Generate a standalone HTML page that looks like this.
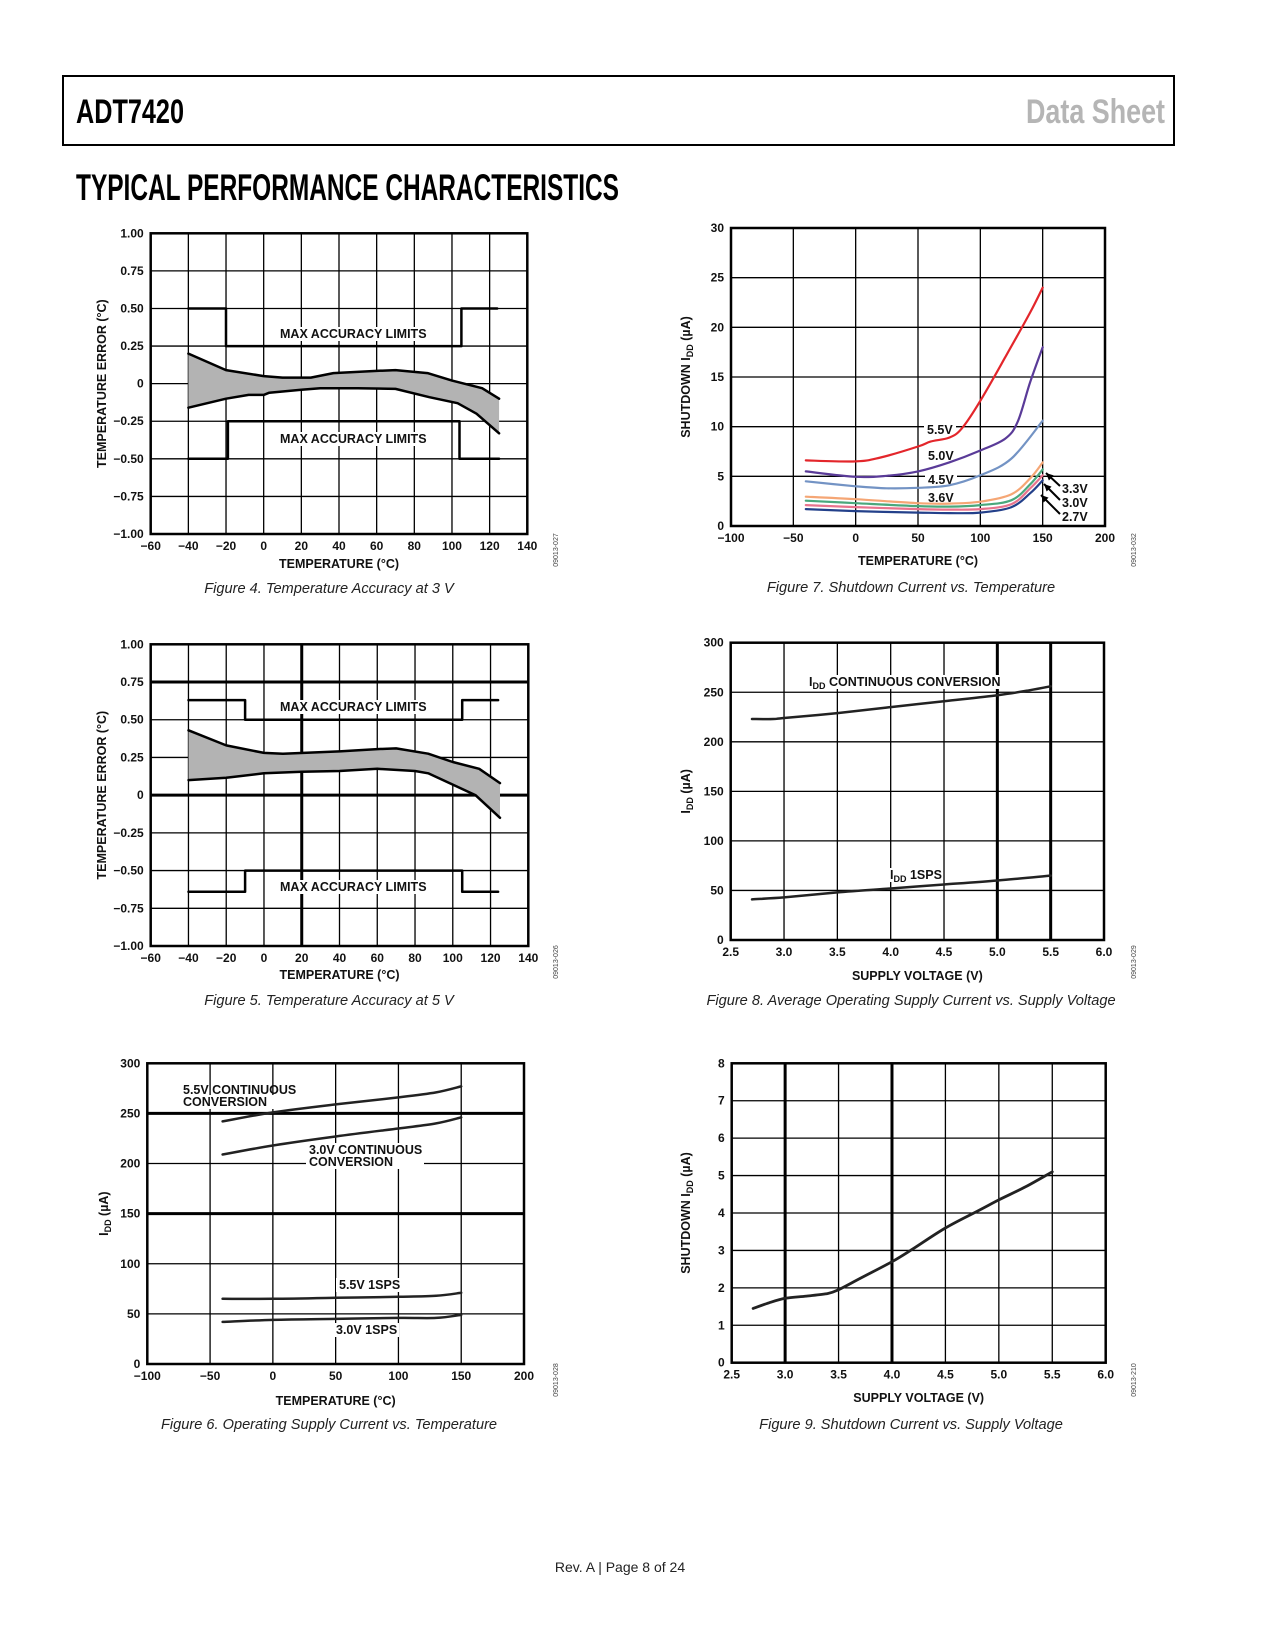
<!DOCTYPE html>
<html><head><meta charset="utf-8"><style>
html,body{margin:0;padding:0;background:#fff;}
svg{display:block;}
text{font-family:"Liberation Sans",Arial,sans-serif;}
.tk{font-size:12px;font-weight:bold;fill:#111;}
.at{font-size:12.5px;font-weight:bold;fill:#111;}
.cap{font-size:14.6px;font-style:italic;fill:#222;}
.lbl{font-size:12.5px;font-weight:bold;fill:#111;}
.code{font-size:7px;fill:#444;}
</style></head><body>
<svg id="page" xmlns="http://www.w3.org/2000/svg" width="1275" height="1650" viewBox="0 0 1275 1650">
<rect x="0" y="0" width="1275" height="1650" fill="#fff"/>
<rect x="63" y="76" width="1111" height="69" fill="none" stroke="#000" stroke-width="2"/>
<text x="76" y="123" font-size="34" font-weight="bold" textLength="108" lengthAdjust="spacingAndGlyphs">ADT7420</text>
<text x="1165" y="123" font-size="34" font-weight="bold" fill="#b5b5b5" text-anchor="end" textLength="139" lengthAdjust="spacingAndGlyphs">Data Sheet</text>
<text x="76" y="200" font-size="37" font-weight="bold" textLength="543" lengthAdjust="spacingAndGlyphs">TYPICAL PERFORMANCE CHARACTERISTICS</text>
<text x="620" y="1572" font-size="14" text-anchor="middle" fill="#222">Rev. A | Page 8 of 24</text>
<g id="charts"></g>
</svg>
<script>
// ---------- Figure 4 data ----------
const f4UpperT = [-40,-20,0,10,25,37,60,70,87,100,116,125];
const f4UpperV = [0.2,0.09,0.05,0.04,0.04,0.07,0.085,0.09,0.07,0.02,-0.03,-0.1];
const f4LowerT = [-40,-20,-8,0,3,20,30,50,70,88,103,113,125];
const f4LowerV = [-0.16,-0.1,-0.075,-0.075,-0.06,-0.04,-0.03,-0.03,-0.035,-0.09,-0.13,-0.2,-0.33];
const f4LimUpT = [-40,-20,-20,105,105,124];
const f4LimUpV = [0.5,0.5,0.25,0.25,0.5,0.5];
const f4LimLoT = [-40,-19,-19,104,104,125];
const f4LimLoV = [-0.5,-0.5,-0.25,-0.25,-0.5,-0.5];
// ---------- Figure 5 data ----------
const f5UpperT = [-40,-20,0,10,40,60,70,87,100,114,125];
const f5UpperV = [0.43,0.33,0.28,0.275,0.29,0.305,0.31,0.275,0.22,0.175,0.08];
const f5LowerT = [-40,-20,0,20,40,60,80,87,100,112,125];
const f5LowerV = [0.1,0.115,0.145,0.155,0.16,0.175,0.16,0.145,0.07,0.0,-0.15];
const f5LimUpT = [-40,-10,-10,105,105,124];
const f5LimUpV = [0.63,0.63,0.5,0.5,0.63,0.63];
const f5LimLoT = [-40,-10,-10,105,105,124];
const f5LimLoV = [-0.64,-0.64,-0.5,-0.5,-0.64,-0.64];
const accYTicks = ["1.00","0.75","0.50","0.25","0","\u22120.25","\u22120.50","\u22120.75","\u22121.00"];
const accYVals = [1,0.75,0.5,0.25,0,-0.25,-0.5,-0.75,-1];
const accXVals = [-60,-40,-20,0,20,40,60,80,100,120,140];
const accXTicks = ["\u221260","\u221240","\u221220","0","20","40","60","80","100","120","140"];
// ---------- Figure 6 data ----------
const f6T = [-40,0,50,100,130,150];
const f6Cont55 = [242,251,259,266,271,277];
const f6Cont30 = [209,218,227,235,240,246];
const f6Sps55 = [65,65,66,67,68,71];
const f6Sps30 = [42,44,45,46,46,49];
const tempXVals = [-100,-50,0,50,100,150,200];
const tempXTicks = ["\u2212100","\u221250","0","50","100","150","200"];
const iddYVals = [0,50,100,150,200,250,300];
const iddYTicks = ["0","50","100","150","200","250","300"];
// ---------- Figure 7 data ----------
const f7T55 = [-40,0,20,50,60,75,85,100,120,140,150];
const f7V55 = [6.6,6.5,6.9,8,8.5,8.9,9.8,12.6,17,21.5,24];
const f7T50 = [-40,0,25,50,75,100,120,130,140,150];
const f7V50 = [5.5,4.95,5.05,5.5,6.4,7.6,8.8,10.5,14.5,18];
const f7T45 = [-40,0,25,50,75,100,125,150];
const f7V45 = [4.5,4.0,3.8,3.85,4.1,5.1,6.8,10.6];
const f7TLow = [-40,0,50,75,100,125,140,150];
const f7V36 = [2.95,2.7,2.3,2.25,2.45,3.2,4.8,6.4];
const f7V33 = [2.55,2.3,2.0,1.95,2.1,2.6,4.2,5.7];
const f7V30 = [2.1,1.9,1.7,1.65,1.7,2.2,3.8,5.1];
const f7V27 = [1.7,1.5,1.35,1.3,1.35,1.9,3.3,4.6];
const f7YVals = [0,5,10,15,20,25,30];
const f7YTicks = ["0","5","10","15","20","25","30"];
// ---------- Figure 8 data ----------
const f8V = [2.7,2.9,3.0,3.5,4.0,4.5,5.0,5.3,5.5];
const f8Cont = [223,223,224,229,235,241,247,252,256];
const f8VS = [2.7,3.0,3.5,4.0,4.5,5.0,5.5];
const f8Sps = [41,43,48,52,56,60,65];
const voltXVals = [2.5,3.0,3.5,4.0,4.5,5.0,5.5,6.0];
const voltXTicks = ["2.5","3.0","3.5","4.0","4.5","5.0","5.5","6.0"];
// ---------- Figure 9 data ----------
const f9V = [2.7,2.85,3.0,3.2,3.4,3.5,3.7,4.0,4.2,4.5,4.8,5.0,5.25,5.5];
const f9I = [1.45,1.6,1.72,1.78,1.85,1.95,2.25,2.7,3.05,3.6,4.05,4.35,4.7,5.1];
const f9YVals = [0,1,2,3,4,5,6,7,8];
const f9YTicks = ["0","1","2","3","4","5","6","7","8"];

const NS = "http://www.w3.org/2000/svg";
const root = document.getElementById("charts");
function mk(tag, attrs, parent){ const e=document.createElementNS(NS,tag); for(const k in attrs) e.setAttribute(k,attrs[k]); (parent||root).appendChild(e); return e; }
function scale(d0,d1,r0,r1){ return v => r0 + (v-d0)/(d1-d0)*(r1-r0); }
function smooth(xs, ys, sx, sy){
  const p = xs.map((x,i)=>[sx(x),sy(ys[i])]);
  let d = "M"+p[0][0].toFixed(1)+","+p[0][1].toFixed(1);
  for(let i=0;i<p.length-1;i++){
    const p0=p[i-1]||p[i], p1=p[i], p2=p[i+1], p3=p[i+2]||p[i+1];
    const c1=[p1[0]+(p2[0]-p0[0])/6, p1[1]+(p2[1]-p0[1])/6];
    const c2=[p2[0]-(p3[0]-p1[0])/6, p2[1]-(p3[1]-p1[1])/6];
    d += " C"+c1[0].toFixed(1)+","+c1[1].toFixed(1)+" "+c2[0].toFixed(1)+","+c2[1].toFixed(1)+" "+p2[0].toFixed(1)+","+p2[1].toFixed(1);
  }
  return d;
}
function poly(xs, ys, sx, sy){ return "M"+xs.map((x,i)=>sx(x).toFixed(1)+","+sy(ys[i]).toFixed(1)).join(" L"); }

function axes(g, c){
  const sx=scale(c.x0,c.x1,c.L,c.R), sy=scale(c.y0,c.y1,c.B,c.T);
  c.xVals.forEach((v,i)=>{
    const X=sx(v);
    if(i>0 && i<c.xVals.length-1){
      const ln = mk("line",{x1:X,y1:c.T,x2:X,y2:c.B,stroke:"#000","stroke-width":(c.thickX||[]).includes(v)?3:1.3},g);
      
      
    }
    const t = mk("text",{x:X,y:c.B+16,"text-anchor":"middle",class:"tk"},g);
    
    
    t.textContent=c.xTicks[i];
  });
  c.yVals.forEach((v,i)=>{
    const Y=sy(v);
    if(v!==c.y0 && v!==c.y1){
      const ln = mk("line",{x1:c.L,y1:Y,x2:c.R,y2:Y,stroke:"#000","stroke-width":(c.thickY||[]).includes(v)?3:1.3},g);
      
      
    }
    const t = mk("text",{x:c.L-7,y:Y+4,"text-anchor":"end",class:"tk"},g);
    
    
    t.textContent=c.yTicks[i];
  });
  const fr = mk("rect",{x:c.L,y:c.T,width:c.R-c.L,height:c.B-c.T,fill:"none",stroke:"#000","stroke-width":2.5},g);
  
  
  const xt = mk("text",{x:(c.L+c.R)/2,y:c.xtY,"text-anchor":"middle",class:"at"},g);
  
  
  xt.textContent=c.xTitle;
  const cy=(c.T+c.B)/2;
  const yt = mk("text",{x:c.ytX,y:cy,"text-anchor":"middle",class:"at",transform:"rotate(-90 "+c.ytX+" "+cy+")"},g);
  
  
  yt.innerHTML=c.yTitle;
  const cp = mk("text",{x:c.capX,y:c.capY,"text-anchor":"middle",class:"cap"},g);
  
  
  cp.textContent=c.caption;
  const cd = mk("text",{x:c.codeX,y:c.codeY,"text-anchor":"middle",class:"code",transform:"rotate(-90 "+c.codeX+" "+c.codeY+")"},g);
  
  
  cd.textContent=c.code;
  return [sx,sy];
}
function label(g, x, y, txt, w, name){
  if(w){ const r=mk("rect",{x:x-3,y:y-11,width:w,height:14,fill:"#fff"},g);
    
     }
  const t=mk("text",{x:x,y:y,class:"lbl"},g);
  
  
  t.innerHTML=txt;
  return t;
}
function curve(g, d, color, w, name){
  const p=mk("path",{d:d,fill:"none",stroke:color,"stroke-width":w,"stroke-linejoin":"round","stroke-linecap":"round"},g);
  
  
  return p;
}
function band(g, sx, sy, uT, uV, lT, lV){
  const up = uT.map((t,i)=>sx(t).toFixed(1)+","+sy(uV[i]).toFixed(1));
  const lo = lT.map((t,i)=>sx(t).toFixed(1)+","+sy(lV[i]).toFixed(1)).reverse();
  const b=mk("path",{d:"M"+up.join(" L")+" L"+lo.join(" L")+"Z",fill:"#b3b3b3",stroke:"none"},g);
  
  
  curve(g, poly(uT,uV,sx,sy), "#000", 2.5, "error-upper-bound");
  curve(g, poly(lT,lV,sx,sy), "#000", 2.5, "error-lower-bound");
}

// Figure 4
{
  const g=mk("g",{});
  
  
  const [sx,sy]=axes(g,{L:150.7,R:527.3,T:233.3,B:534,x0:-60,x1:140,y0:-1,y1:1,xVals:accXVals,xTicks:accXTicks,yVals:accYVals,yTicks:accYTicks,
    xTitle:"TEMPERATURE (°C)",xtY:568,ytX:106,yTitle:"TEMPERATURE ERROR (°C)",caption:"Figure 4. Temperature Accuracy at 3 V",capX:329,capY:593,code:"09013-027",codeX:558,codeY:550});
  label(g,280,338,"MAX ACCURACY LIMITS",152,"max-limit-label-upper");
  label(g,280,443,"MAX ACCURACY LIMITS",152,"max-limit-label-lower");
  curve(g, poly(f4LimUpT,f4LimUpV,sx,sy),"#000",2.5,"upper-accuracy-limit");
  curve(g, poly(f4LimLoT,f4LimLoV,sx,sy),"#000",2.5,"lower-accuracy-limit");
  band(g,sx,sy,f4UpperT,f4UpperV,f4LowerT,f4LowerV);
}
// Figure 5
{
  const g=mk("g",{});
  
  
  const [sx,sy]=axes(g,{L:150.7,R:528.3,T:644.3,B:946,x0:-60,x1:140,y0:-1,y1:1,xVals:accXVals,xTicks:accXTicks,yVals:accYVals,yTicks:accYTicks,thickX:[20],thickY:[0.75,0],
    xTitle:"TEMPERATURE (°C)",xtY:979,ytX:106,yTitle:"TEMPERATURE ERROR (°C)",caption:"Figure 5. Temperature Accuracy at 5 V",capX:329,capY:1005,code:"09013-026",codeX:558,codeY:962});
  label(g,280,711,"MAX ACCURACY LIMITS",152,"max-limit-label-upper");
  label(g,280,891,"MAX ACCURACY LIMITS",152,"max-limit-label-lower");
  curve(g, poly(f5LimUpT,f5LimUpV,sx,sy),"#000",2.5,"upper-accuracy-limit");
  curve(g, poly(f5LimLoT,f5LimLoV,sx,sy),"#000",2.5,"lower-accuracy-limit");
  band(g,sx,sy,f5UpperT,f5UpperV,f5LowerT,f5LowerV);
}
// Figure 6
{
  const g=mk("g",{});
  
  
  const [sx,sy]=axes(g,{L:147.3,R:524,T:1063.3,B:1364,x0:-100,x1:200,y0:0,y1:300,xVals:tempXVals,xTicks:tempXTicks,yVals:iddYVals,yTicks:iddYTicks,thickY:[250,150],
    xTitle:"TEMPERATURE (°C)",xtY:1405,ytX:108,yTitle:'I<tspan font-size="9" dy="3">DD</tspan><tspan dy="-3"> (µA)</tspan>',caption:"Figure 6. Operating Supply Current vs. Temperature",capX:329,capY:1429,code:"09013-028",codeX:558,codeY:1380});
  label(g,183,1094,"5.5V CONTINUOUS",0,"label-5v5-continuous");
  label(g,183,1106,"CONVERSION",95,"label-5v5-continuous-2");
  label(g,309,1154,"3.0V CONTINUOUS",118,"label-3v0-continuous");
  label(g,309,1166,"CONVERSION",118,"label-3v0-continuous-2");
  label(g,339,1289,"5.5V 1SPS",66,"label-5v5-1sps");
  label(g,336,1334,"3.0V 1SPS",66,"label-3v0-1sps");
  curve(g, smooth(f6T,f6Cont55,sx,sy),"#222",2.5,"line-5v5-continuous");
  curve(g, smooth(f6T,f6Cont30,sx,sy),"#222",2.5,"line-3v0-continuous");
  curve(g, smooth(f6T,f6Sps55,sx,sy),"#222",2.5,"line-5v5-1sps");
  curve(g, smooth(f6T,f6Sps30,sx,sy),"#222",2.5,"line-3v0-1sps");
}
// Figure 7
{
  const g=mk("g",{});
  
  
  const [sx,sy]=axes(g,{L:731,R:1105,T:228,B:526,x0:-100,x1:200,y0:0,y1:30,xVals:tempXVals,xTicks:tempXTicks,yVals:f7YVals,yTicks:f7YTicks,
    xTitle:"TEMPERATURE (°C)",xtY:565,ytX:690,yTitle:'SHUTDOWN I<tspan font-size="9" dy="3">DD</tspan><tspan dy="-3"> (µA)</tspan>',caption:"Figure 7. Shutdown Current vs. Temperature",capX:911,capY:592,code:"09013-032",codeX:1136,codeY:550});
  label(g,927,434,"5.5V",32,"label-5v5");
  label(g,928,460,"5.0V",32,"label-5v0");
  label(g,928,484,"4.5V",32,"label-4v5");
  label(g,928,502,"3.6V",0,"label-3v6");
  curve(g, smooth(f7T55,f7V55,sx,sy),"#e3262b",2.2,"line-5v5");
  curve(g, smooth(f7T50,f7V50,sx,sy),"#5a3b98",2.2,"line-5v0");
  curve(g, smooth(f7T45,f7V45,sx,sy),"#7393c4",2.2,"line-4v5");
  curve(g, smooth(f7TLow,f7V36,sx,sy),"#f5a675",2.2,"line-3v6");
  curve(g, smooth(f7TLow,f7V33,sx,sy),"#4aa87c",2.2,"line-3v3");
  curve(g, smooth(f7TLow,f7V30,sx,sy),"#e8738d",2.2,"line-3v0");
  curve(g, smooth(f7TLow,f7V27,sx,sy),"#23408a",2.2,"line-2v7");
  label(g,1062,493,"3.3V",0,"label-3v3");
  label(g,1062,507,"3.0V",0,"label-3v0");
  label(g,1062,521,"2.7V",0,"label-2v7");
  [[1060,486,1046,473],[1060,500,1044,484],[1060,514,1041,495]].forEach(a=>{
    const l=mk("line",{x1:a[0],y1:a[1],x2:a[2],y2:a[3],stroke:"#000","stroke-width":2},g);
    
    
    const ang=Math.atan2(a[3]-a[1],a[2]-a[0]);
    const p=[[a[2],a[3]],[a[2]-8*Math.cos(ang-0.45),a[3]-8*Math.sin(ang-0.45)],[a[2]-8*Math.cos(ang+0.45),a[3]-8*Math.sin(ang+0.45)]];
    const h=mk("polygon",{points:p.map(q=>q.join(",")).join(" "),fill:"#000"},g);
    
    
  });
}
// Figure 8
{
  const g=mk("g",{});
  
  
  const [sx,sy]=axes(g,{L:730.7,R:1104,T:642.7,B:940,x0:2.5,x1:6.0,y0:0,y1:300,xVals:voltXVals,xTicks:voltXTicks,yVals:iddYVals,yTicks:iddYTicks,thickX:[5.0,5.5],
    xTitle:"SUPPLY VOLTAGE (V)",xtY:980,ytX:690,yTitle:'I<tspan font-size="9" dy="3">DD</tspan><tspan dy="-3"> (µA)</tspan>',caption:"Figure 8. Average Operating Supply Current vs. Supply Voltage",capX:911,capY:1005,code:"09013-029",codeX:1136,codeY:962});
  label(g,809,686,'I<tspan font-size="9" dy="3">DD</tspan><tspan dy="-3"> CONTINUOUS CONVERSION</tspan>',200,"label-idd-continuous");
  label(g,890,879,'I<tspan font-size="9" dy="3">DD</tspan><tspan dy="-3"> 1SPS</tspan>',56,"label-idd-1sps");
  curve(g, smooth(f8V,f8Cont,sx,sy),"#222",2.5,"line-continuous");
  curve(g, smooth(f8VS,f8Sps,sx,sy),"#222",2.5,"line-1sps");
}
// Figure 9
{
  const g=mk("g",{});
  
  
  const [sx,sy]=axes(g,{L:731.7,R:1105.7,T:1063.3,B:1362.7,x0:2.5,x1:6.0,y0:0,y1:8,xVals:voltXVals,xTicks:voltXTicks,yVals:f9YVals,yTicks:f9YTicks,thickX:[3.0,4.0],
    xTitle:"SUPPLY VOLTAGE (V)",xtY:1402,ytX:690,yTitle:'SHUTDOWN  I<tspan font-size="9" dy="3">DD</tspan><tspan dy="-3"> (µA)</tspan>',caption:"Figure 9. Shutdown Current vs. Supply Voltage",capX:911,capY:1429,code:"09013-210",codeX:1136,codeY:1380});
  curve(g, smooth(f9V,f9I,sx,sy),"#222",2.8,"line-shutdown-current");
}
</script>
</body></html>
